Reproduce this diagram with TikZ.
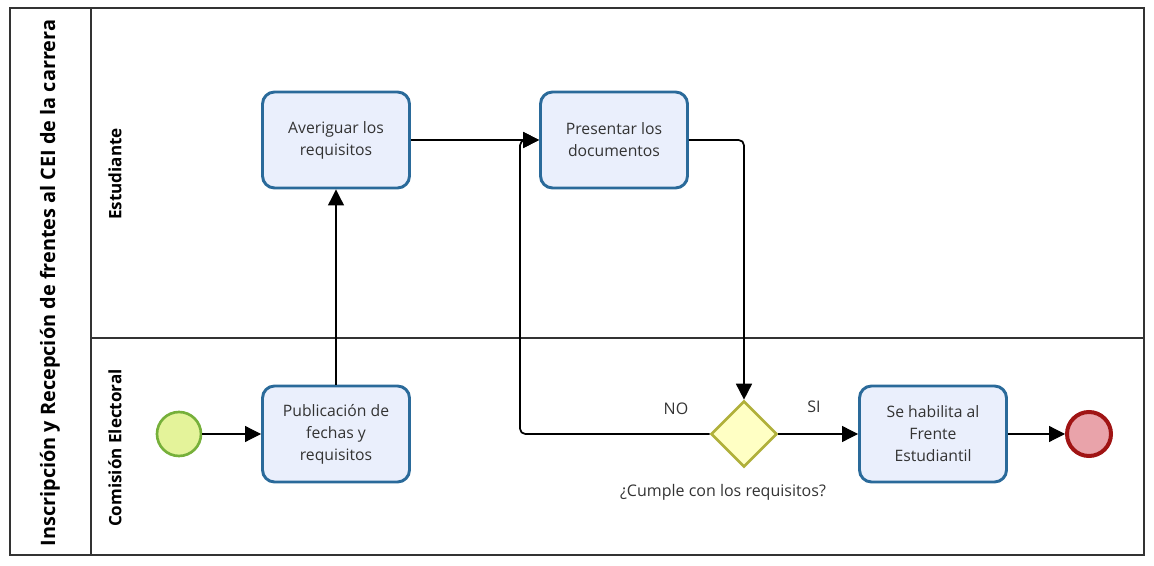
\documentclass[tikz,border=0pt]{standalone}
\usepackage{fontspec}
\setmainfont{Open Sans}
\usetikzlibrary{arrows.meta,shapes.geometric}
\definecolor{taskborder}{HTML}{2A6A9A}
\definecolor{taskfill}{HTML}{EAEFFC}
\definecolor{txt}{HTML}{333333}
\definecolor{startfill}{HTML}{E4F39A}
\definecolor{startborder}{HTML}{76B03A}
\definecolor{endfill}{HTML}{E9A3AA}
\definecolor{endborder}{HTML}{A01414}
\definecolor{gwfill}{HTML}{FFFFC4}
\definecolor{gwborder}{HTML}{B0B03A}
\tikzset{
  task/.style={draw=taskborder, line width=2.2pt, fill=taskfill, rounded corners=9pt,
    minimum width=147*0.75pt, minimum height=96*0.75pt, align=center, text=txt,
    font=\fontsize{11.8}{16.5}\selectfont, inner sep=0pt},
  flow/.style={draw=black, line width=1.3pt, -{Triangle[length=12pt,width=12pt]}, rounded corners=4pt},
  lanelbl/.style={rotate=90, font=\bfseries\fontsize{12.8}{14}\selectfont, text=black},
  lbl/.style={text=txt, font=\fontsize{12}{14}\selectfont},
}
\begin{document}
\begin{tikzpicture}[x=0.75pt,y=-0.75pt]
\useasboundingbox (0,0) rectangle (1154,566);
% pool
\draw[line width=1.2pt, draw=black!80] (10,8) rectangle (1144,555);
\draw[line width=1pt, draw=black!80] (91,8) -- (91,555);
\draw[line width=1pt, draw=black!80] (91,338) -- (1144,338);
\node[rotate=90, font=\bfseries\fontsize{14.9}{16}\selectfont] (title) at (50,283) {Inscripción y Recepción de frentes al CEI de la carrera};
\node[lanelbl] (lane1) at (115,174) {Estudiante};
\node[lanelbl] (lane2) at (115,448) {Comisión Electoral};
% nodes
\node[task] (aver) at (336,140) {Averiguar los\\requisitos};
\node[task] (pres) at (614,140) {Presentar los\\documentos};
\node[task] (pub) at (336,434) {Publicación de\\fechas y\\requisitos};
\node[task] (hab) at (933,434) {Se habilita al\\Frente\\Estudiantil};
\node[circle, draw=startborder, fill=startfill, line width=2pt, minimum size=44*0.75pt, inner sep=0pt] (start) at (179,434) {};
\node[circle, draw=endborder, fill=endfill, line width=3pt, minimum size=44*0.75pt, inner sep=0pt] (end) at (1089,434) {};
\node[diamond, draw=gwborder, fill=gwfill, line width=2pt, minimum width=66*0.75pt, minimum height=66*0.75pt, inner sep=0pt] (gw) at (744,434) {};
\node[lbl] (no) at (676,409) {NO};
\node[lbl] (si) at (814,407) {SI};
\node[lbl] (q) at (723,492) {¿Cumple con los requisitos?};
\coordinate (c1) at (744,140);
\coordinate (c2) at (520,434);
\coordinate (c3) at (520,140);
% flows
\draw[flow, line width=0.8pt] (start) -- (pub);
\draw[flow, line width=0.9pt] (pub) -- (aver);
\draw[flow] (aver) -- (pres);
\draw[flow] (pres.east) -- (c1) -- (gw.north);
\draw[flow] (gw.west) -- (c2) -- (c3) -- (pres.west);
\draw[flow, line width=0.9pt] (gw) -- (hab);
\draw[flow, line width=0.9pt] (hab) -- (end);
\end{tikzpicture}
\end{document}
